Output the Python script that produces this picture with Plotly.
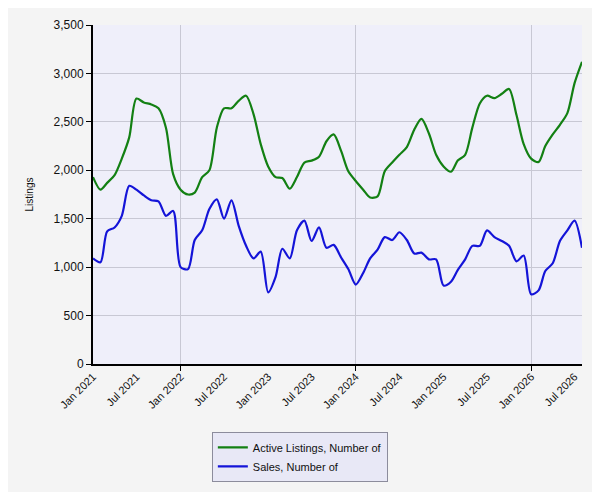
import pandas as pd
import plotly.graph_objects as go

# monthly, Jan 2021 .. Aug 2026
months = pd.date_range("2021-01-01", periods=68, freq="MS")

active_listings = [
    1930, 1800, 1870, 1950, 2120, 2340, 2740, 2700, 2680, 2640, 2440, 1960,
    1800, 1750, 1770, 1930, 2000, 2440, 2640, 2640, 2720, 2770, 2580, 2270,
    2040, 1930, 1920, 1810, 1930, 2080, 2100, 2140, 2300, 2370, 2200, 1990,
    1890, 1800, 1720, 1730, 1990, 2080, 2160, 2240, 2420, 2530, 2380, 2160,
    2040, 1985, 2100, 2160, 2440, 2690, 2770, 2745, 2790, 2840, 2570, 2270,
    2120, 2085, 2250, 2370, 2470, 2590, 2900, 3120,
]

sales = [
    1090, 1050, 1370, 1410, 1530, 1840, 1800, 1740, 1690, 1680, 1530, 1580,
    1000, 980, 1280, 1380, 1600, 1700, 1500, 1690, 1420, 1220, 1090, 1160,
    740, 900, 1190, 1090, 1380, 1480, 1270, 1410, 1200, 1230, 1100, 980,
    820, 940, 1090, 1180, 1310, 1280, 1360, 1280, 1140, 1150, 1080, 1080,
    810, 850, 970, 1080, 1220, 1220, 1380, 1310, 1270, 1220, 1060, 1120,
    720, 760, 960, 1040, 1270, 1380, 1480, 1200,
]

x_range = ["2021-01-01", "2026-08-01"]
font = "Liberation Sans, Arial, sans-serif"
grid = "#c8c8d4"

fig = go.Figure()
# green on the labelled axis, blue on the overlay that carries the 2-year grid
fig.add_trace(go.Scatter(x=months, y=active_listings, name="Active Listings, Number of",
                         mode="lines", line=dict(color="#138013", width=2.2, shape="spline", smoothing=0.8)))
fig.add_trace(go.Scatter(x=months, y=sales, name="Sales, Number of",
                         mode="lines", line=dict(color="#1414d8", width=2.2, shape="spline", smoothing=0.8),
                         xaxis="x2"))

# page body has an 8px margin all round, so the figure is smaller than the window
# legend kept inside the figure so it doesn't push the bottom margin
fig.update_layout(
    width=584, height=484,
    margin=dict(l=85, r=10, t=17, b=123),
    paper_bgcolor="#f4f4f4",
    plot_bgcolor="#efeffa",
    font=dict(family=font, size=12, color="#111"),
    showlegend=True,
    legend=dict(x=0.423, xanchor="center", y=-0.2, yanchor="top",
                bgcolor="#e8e8f6", bordercolor="#8c8c9c", borderwidth=1,
                font=dict(size=11, color="#111"), tracegroupgap=0),
    xaxis=dict(
        type="date", range=x_range, dtick="M6", tick0="2021-01-01", tickformat="%b %Y",
        tickangle=-45, tickfont=dict(size=11), showgrid=False, ticks="",
        showline=True, linecolor="#000", linewidth=2, zeroline=False, automargin=False,
    ),
    xaxis2=dict(
        type="date", range=x_range, overlaying="x", matches="x", side="bottom",
        dtick="M24", tick0="2022-01-01", showgrid=True, gridcolor=grid, gridwidth=1,
        ticks="outside", ticklen=6, tickcolor="#000", showticklabels=False,
        showline=False, zeroline=False, automargin=False,
    ),
    yaxis=dict(
        range=[0, 3500], dtick=500, tickformat=",d", showgrid=True, gridcolor=grid,
        ticks="outside", ticklen=5, tickcolor="#000", tickfont=dict(size=12),
        showline=True, linecolor="#000", linewidth=2, zeroline=False, automargin=False,
        title=dict(text="Listings", font=dict(size=10), standoff=18),
    ),
    yaxis2=dict(
        range=[0, 3500], overlaying="y", side="right", showgrid=False,
        showticklabels=False, ticks="", showline=True, linecolor="#7a7a7a", linewidth=3,
        zeroline=False, automargin=False,
    ),
)

fig.write_html("out.html")
